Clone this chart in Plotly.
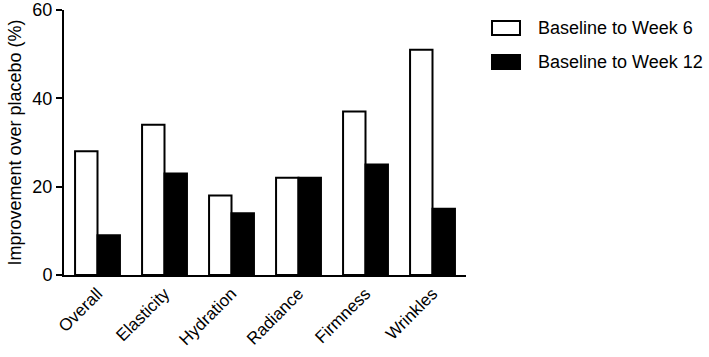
import plotly.graph_objects as go

categories = ["Overall", "Elasticity", "Hydration", "Radiance", "Firmness", "Wrinkles"]
week6 = [28, 34, 18, 22, 37, 51]
week12 = [9, 23, 14, 22, 25, 15]
y_ticks = [0, 20, 40, 60]
series_names = ["Baseline to Week 6", "Baseline to Week 12"]
series_fill = ["white", "black"]

fig = go.Figure()
for name, vals, fill in zip(series_names, [week6, week12], series_fill):
    fig.add_trace(go.Bar(x=categories, y=vals, name=name, showlegend=False,
                         marker=dict(color=fill, line=dict(color="black", width=2))))

# custom legend (larger swatches like the reference)
legend_rows = [(0.9057, 0.9585, 0.932), (0.7774, 0.8302, 0.8038)]
for (y0, y1, ty), name, fill in zip(legend_rows, series_names, series_fill):
    fig.add_shape(type="rect", xref="paper", yref="paper", x0=1.0647, x1=1.1343,
                  y0=y0, y1=y1, fillcolor=fill, line=dict(color="black", width=2))
    fig.add_annotation(xref="paper", yref="paper", x=1.175, y=ty, text=name,
                       showarrow=False, xanchor="left", yanchor="middle",
                       font=dict(size=18))

fig.update_layout(
    width=709, height=357,
    margin=dict(l=64, r=243, t=10, b=82, autoexpand=False),
    plot_bgcolor="white", paper_bgcolor="white",
    barmode="group", bargap=0.33, bargroupgap=0,
    font=dict(family="Liberation Sans, Arial, sans-serif", size=17, color="black"),
    xaxis=dict(range=[-0.5, 5.5], showline=True, linecolor="black", linewidth=2,
               ticks="", tickangle=-45, tickfont=dict(size=17), showgrid=False,
               automargin=False),
    yaxis=dict(range=[0, 60], tickvals=y_ticks, showline=True, linecolor="black",
               linewidth=2, ticks="outside", ticklen=6, tickwidth=2, tickcolor="black",
               showgrid=False, zeroline=False, tickfont=dict(size=18), automargin=False,
               title=dict(text="Improvement over placebo (%)", font=dict(size=18), standoff=6)),
)

fig.write_html("out.html")
